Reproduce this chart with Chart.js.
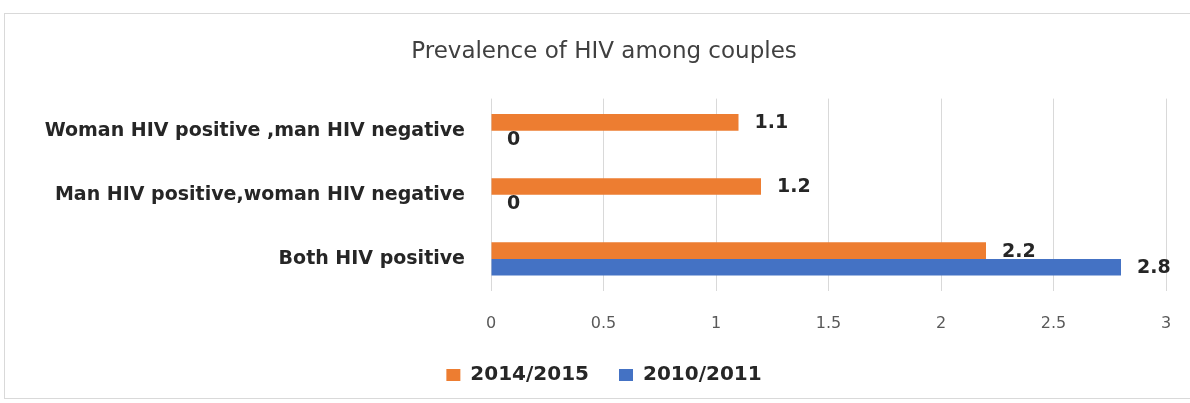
<!DOCTYPE html>
<html>
<head>
<meta charset="utf-8">
<script src="https://cdn.jsdelivr.net/npm/chart.js@4.4.1/dist/chart.umd.min.js"></script>
<style>
  html, body { margin: 0; padding: 0; background: #fff; }
  #wrap { position: relative; width: 1190px; height: 403px; }
  #frame { position: absolute; left: 4px; top: 13px; width: 1190px; height: 386px; border: 1px solid #d9d9d9; box-sizing: border-box; }
  canvas { position: absolute; left: 0; top: 0; }
</style>
</head>
<body>
<div id="wrap">
  <div id="frame"></div>
  <canvas id="chart" width="1190" height="403"></canvas>
</div>
<script>
// Chart data
const categories = [
  "Woman HIV positive ,man HIV negative",
  "Man HIV positive,woman HIV negative",
  "Both HIV positive"
];
const seriesNames = ["2014/2015", "2010/2011"];
const values2014 = [1.1, 1.2, 2.2];
const values2010 = [0, 0, 2.8];
const xTicks = [0, 0.5, 1, 1.5, 2, 2.5, 3];

const FONT = "'DejaVu Sans', sans-serif";

// Draw the value next to the end of each bar
const valueLabels = {
  id: "valueLabels",
  afterDatasetsDraw(chart) {
    const ctx = chart.ctx;
    ctx.save();
    ctx.font = "bold 19px " + FONT;
    ctx.fillStyle = "#262626";
    ctx.textAlign = "left";
    ctx.textBaseline = "middle";
    chart.data.datasets.forEach((ds, i) => {
      chart.getDatasetMeta(i).data.forEach((bar, j) => {
        ctx.fillText(String(ds.data[j]), bar.x + 16, bar.y + 1);
      });
    });
    ctx.restore();
  }
};

const ctx = document.getElementById("chart").getContext("2d");
new Chart(ctx, {
  type: "bar",
  data: {
    labels: categories,
    datasets: [
      {
        label: seriesNames[0],
        data: values2014,
        backgroundColor: "#ED7D31",
        categoryPercentage: 0.52,
        barPercentage: 1.0
      },
      {
        label: seriesNames[1],
        data: values2010,
        backgroundColor: "#4472C4",
        categoryPercentage: 0.52,
        barPercentage: 1.0
      }
    ]
  },
  options: {
    indexAxis: "y",
    responsive: false,
    animation: false,
    layout: {
      padding: { left: 42, right: 24, top: 38, bottom: 8 }
    },
    scales: {
      x: {
        min: 0,
        max: 3,
        afterBuildTicks: (scale) => {
          scale.ticks = xTicks.map(v => ({ value: v }));
        },
        afterFit: (scale) => { scale.height = 44; },
        grid: { color: "#d9d9d9", drawTicks: true, tickLength: 19, tickColor: "transparent" },
        border: { display: false },
        ticks: {
          padding: 4,
          maxRotation: 0,
          color: "#595959",
          callback: (v) => String(v),
          font: { family: FONT, size: 16 }
        }
      },
      y: {
        grid: { display: false },
        border: { display: false },
        afterFit: (scale) => { scale.width = 449; },
        ticks: {
          padding: 18,
          color: "#262626",
          font: { family: FONT, size: 19, weight: "bold" }
        }
      }
    },
    plugins: {
      title: {
        display: true,
        text: "Prevalence of HIV among couples",
        color: "#404040",
        font: { family: FONT, size: 23, weight: "normal" },
        padding: { top: 0, bottom: 33 }
      },
      legend: {
        position: "bottom",
        labels: {
          color: "#262626",
          boxWidth: 14,
          boxHeight: 12,
          padding: 30,
          font: { family: FONT, size: 20, weight: "bold" }
        }
      },
      tooltip: { enabled: false }
    }
  },
  plugins: [valueLabels]
});
</script>
</body>
</html>
